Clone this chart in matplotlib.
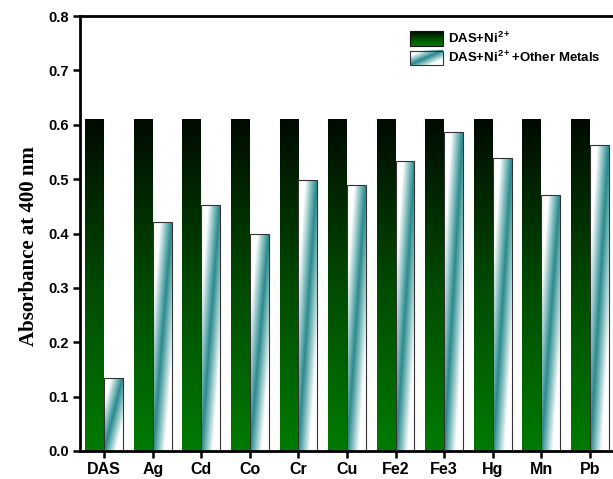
import numpy as np
import matplotlib
matplotlib.use("Agg")
import matplotlib.pyplot as plt
from matplotlib.colors import LinearSegmentedColormap
from matplotlib.patches import Rectangle
from matplotlib.image import BboxImage
from matplotlib.transforms import Bbox, TransformedBbox
from matplotlib.legend_handler import HandlerBase

categories = ["DAS", "Ag", "Cd", "Co", "Cr", "Cu", "Fe2", "Fe3", "Hg", "Mn", "Pb"]
ni_values = [0.61, 0.61, 0.61, 0.61, 0.61, 0.61, 0.61, 0.61, 0.61, 0.61, 0.61]
other_values = [0.135, 0.422, 0.453, 0.399, 0.499, 0.489, 0.533, 0.587, 0.538, 0.471, 0.563]
series_labels = ["DAS+Ni$^{2+}$", "DAS+Ni$^{2+}$+Other Metals"]
yticks = [0.0, 0.1, 0.2, 0.3, 0.4, 0.5, 0.6, 0.7, 0.8]

green_cmap = LinearSegmentedColormap.from_list("g", ["#007a00", "#004a00", "#000a00"])
teal_cmap = LinearSegmentedColormap.from_list("t", ["#2a8a8c", "#8fc4c6", "#ffffff"])

def green_img(n=64):
    v = np.linspace(0, 1, n)[:, None] * np.ones((1, 4))
    return green_cmap(v)

def teal_img(n=128, m=32):
    v = np.linspace(0, 1, n)[:, None]
    u = np.linspace(0, 1, m)[None, :]
    t = np.clip(np.abs(u - v) * 1.6, 0, 1)
    return teal_cmap(t)

plt.rcParams['font.family'] = ['Liberation Sans', 'DejaVu Sans']
plt.rcParams['mathtext.fontset'] = 'custom'
plt.rcParams['mathtext.rm'] = 'Liberation Sans:bold'
plt.rcParams['mathtext.it'] = 'Liberation Sans:bold'
plt.rcParams['mathtext.bf'] = 'Liberation Sans:bold'

fig = plt.figure(figsize=(6.13, 4.79), dpi=100)
W, H = 613, 479
ax = fig.add_axes([80 / W, 1 - 451 / H, 534 / W, 435 / H])

x = np.arange(len(categories))
bw = 0.39
b1 = ax.bar(x - bw / 2, ni_values, bw, color="none", edgecolor="none", zorder=2)
b2 = ax.bar(x + bw / 2, other_values, bw, color="none", edgecolor="#333333", linewidth=0.8, zorder=3)

gimg = green_img()
timg = teal_img()
for r in b1:
    x0, y0, w, h = r.get_x(), r.get_y(), r.get_width(), r.get_height()
    im = ax.imshow(gimg, extent=[x0, x0 + w, y0, y0 + h], origin="lower", aspect="auto", zorder=2)
    im.set_clip_path(r)
for r in b2:
    x0, y0, w, h = r.get_x(), r.get_y(), r.get_width(), r.get_height()
    im = ax.imshow(timg, extent=[x0, x0 + w, y0, y0 + h], origin="lower", aspect="auto", zorder=2.5)
    im.set_clip_path(r)

ax.set_xlim(-0.5, len(categories) - 0.5)
ax.set_ylim(0, 0.8)
ax.set_xticks(x)
ax.set_xticklabels(categories, fontsize=11.5, fontweight="bold")
ax.set_yticks(yticks)
ax.set_yticklabels([f"{v:.1f}" for v in yticks], fontsize=10.5, fontweight="bold")
ax.tick_params(axis="both", direction="out", length=5, width=1.8, pad=3)
for s in ax.spines.values():
    s.set_linewidth(2)
ax.spines["right"].set_visible(False)
ax.set_ylabel("Absorbance at 400 nm", fontsize=15, fontweight="bold",
              family=["Liberation Serif", "DejaVu Serif"])
ax.yaxis.set_label_coords(-0.077, 0.47)


class GradHandler(HandlerBase):
    def __init__(self, img, edge):
        super().__init__()
        self.img = img
        self.edge = edge

    def create_artists(self, legend, orig_handle, xdescent, ydescent, width, height, fontsize, trans):
        bb = Bbox.from_bounds(-xdescent, -ydescent, width, height)
        tbb = TransformedBbox(bb, trans)
        bi = BboxImage(tbb, interpolation="bilinear", origin="lower")
        bi.set_data(self.img)
        rect = Rectangle((-xdescent, -ydescent), width, height, facecolor="none",
                         edgecolor=self.edge, linewidth=0.8, transform=trans)
        return [bi, rect]

h1 = Rectangle((0, 0), 1, 1)
h2 = Rectangle((0, 0), 1, 1)
leg = ax.legend([h1, h2], series_labels, loc="upper left",
                bbox_to_anchor=(410 / W, 1 - 31 / H), bbox_transform=fig.transFigure,
                borderpad=0, borderaxespad=0,
                frameon=False, handler_map={h1: GradHandler(gimg, "#111111"),
                                            h2: GradHandler(teal_img(32, 64), "#333333")},
                prop={"weight": "bold", "size": 9.5}, handlelength=2.5, handleheight=1.35,
                labelspacing=0.3, handletextpad=0.4)

fig.savefig("out.png", dpi=100)
